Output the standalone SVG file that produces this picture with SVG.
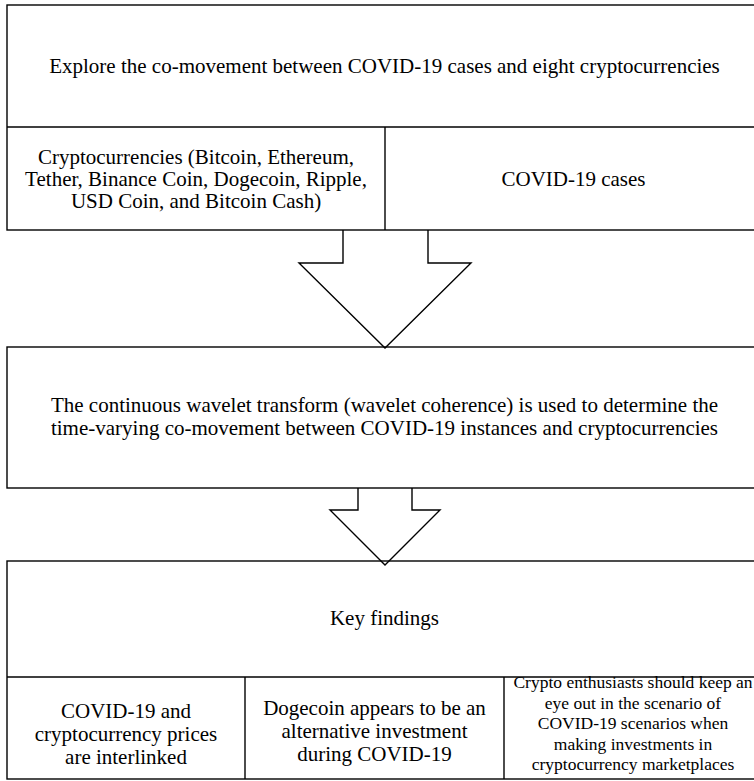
<svg xmlns="http://www.w3.org/2000/svg" width="754" height="781" viewBox="0 0 754 781">
<style>
.box{fill:#fff;stroke:#000;stroke-width:1.4}
.ln{fill:none;stroke:#000;stroke-width:1.4}
.t{font-family:"Liberation Serif","Times New Roman",serif;font-size:21px;fill:#000;text-anchor:middle}
.s{font-size:17.5px}
</style>
<rect width="754" height="781" fill="#fff"/>
<g id="top">
<rect class="box" x="7" y="5" width="755" height="225"/>
<line class="ln" x1="7" y1="127" x2="762" y2="127"/>
<line class="ln" x1="385" y1="127" x2="385" y2="230"/>
<text class="t" x="384.5" y="73">Explore the co-movement between COVID-19 cases and eight cryptocurrencies</text>
</g>
<g id="crypto">
<text class="t" x="196" y="164">Cryptocurrencies (Bitcoin, Ethereum,</text>
<text class="t" x="196" y="186">Tether, Binance Coin, Dogecoin, Ripple,</text>
<text class="t" x="196" y="208">USD Coin, and Bitcoin Cash)</text>
</g>
<g id="covid">
<text class="t" x="573.5" y="186">COVID-19 cases</text>
</g>
<g id="method">
<rect class="box" x="7" y="347" width="755" height="141"/>
<text class="t" x="384.5" y="412">The continuous wavelet transform (wavelet coherence) is used to determine the</text>
<text class="t" x="384.5" y="435">time-varying co-movement between COVID-19 instances and cryptocurrencies</text>
</g>
<g id="findings">
<rect class="box" x="7" y="561" width="755" height="218"/>
<line class="ln" x1="7" y1="677" x2="762" y2="677"/>
<line class="ln" x1="245" y1="677" x2="245" y2="779"/>
<line class="ln" x1="504" y1="677" x2="504" y2="779"/>
<text class="t" x="384.5" y="625">Key findings</text>
</g>
<g id="f1">
<text class="t" x="126" y="718">COVID-19 and</text>
<text class="t" x="126" y="741">cryptocurrency prices</text>
<text class="t" x="126" y="764">are interlinked</text>
</g>
<g id="f2">
<text class="t" x="374.5" y="715">Dogecoin appears to be an</text>
<text class="t" x="374.5" y="738">alternative investment</text>
<text class="t" x="374.5" y="761">during COVID-19</text>
</g>
<g id="f3">
<text class="t s" x="633" y="688">Crypto enthusiasts should keep an</text>
<text class="t s" x="633" y="708.5">eye out in the scenario of</text>
<text class="t s" x="633" y="729">COVID-19 scenarios when</text>
<text class="t s" x="633" y="749.5">making investments in</text>
<text class="t s" x="633" y="770">cryptocurrency marketplaces</text>
</g>
<g id="connectors">
<path class="ln" d="M343,230 V263 H299 L385,348 L471,263 H428 V230"/>
<path class="ln" d="M358,488 V510 H330 L385,565 L440,510 H412 V488"/>
</g>
</svg>
